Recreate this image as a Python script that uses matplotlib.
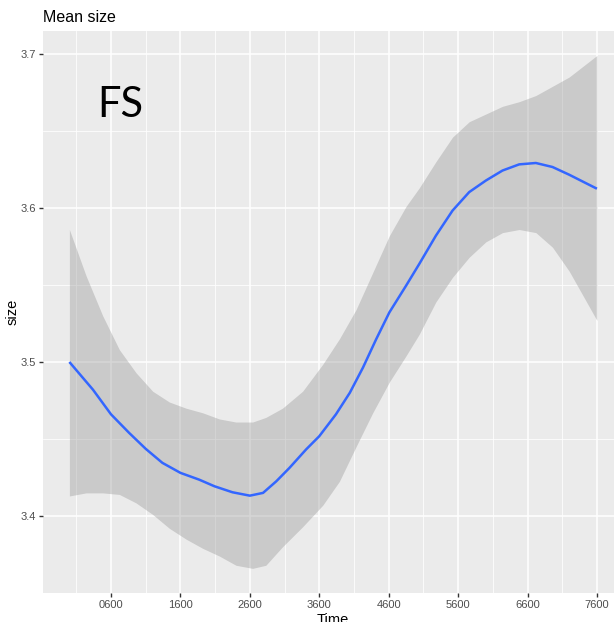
import matplotlib.pyplot as plt
import numpy as np

# Smoothed mean size over time (loess fit) with its confidence band
fit_time = [0, 340, 600, 860, 1100, 1340, 1600, 1870, 2090, 2350, 2600,
            2790, 2980, 3170, 3410, 3600, 3840, 4040, 4230, 4420, 4610,
            4850, 5040, 5280, 5520, 5760, 6000, 6240, 6480, 6720, 6960,
            7200, 7600]
size_fit = [3.500, 3.482, 3.466, 3.454, 3.4436, 3.4345, 3.428, 3.4236,
            3.4193, 3.4154, 3.4132, 3.415, 3.4225, 3.4312, 3.4432, 3.4518,
            3.466, 3.480, 3.4964, 3.5148, 3.5322, 3.5495, 3.5636, 3.582,
            3.5983, 3.6103, 3.6178, 3.6243, 3.6283, 3.6292, 3.6266, 3.6216,
            3.6125]

band_time = [0, 240, 480, 720, 960, 1200, 1440, 1680, 1920, 2160, 2400,
             2640, 2830, 3070, 3360, 3650, 3890, 4130, 4370, 4610, 4850,
             5040, 5280, 5520, 5760, 6000, 6240, 6480, 6720, 6960, 7200,
             7600]
size_upper = [3.586, 3.556, 3.530, 3.508, 3.493, 3.481, 3.474, 3.470, 3.467,
              3.463, 3.461, 3.461, 3.464, 3.470, 3.481, 3.4985, 3.515, 3.534,
              3.558, 3.582, 3.601, 3.613, 3.630, 3.646, 3.656, 3.661, 3.666,
              3.669, 3.673, 3.679, 3.685, 3.699]
size_lower = [3.413, 3.415, 3.415, 3.414, 3.4085, 3.401, 3.392, 3.385, 3.379,
              3.374, 3.368, 3.366, 3.368, 3.380, 3.393, 3.407, 3.4225, 3.445,
              3.467, 3.487, 3.504, 3.518, 3.539, 3.555, 3.568, 3.578, 3.584,
              3.586, 3.584, 3.5745, 3.559, 3.527]

x_ticks = [600, 1600, 2600, 3600, 4600, 5600, 6600, 7600]
x_labels = ['0600', '1600', '2600', '3600', '4600', '5600', '6600', '7600']
y_ticks = [3.4, 3.5, 3.6, 3.7]

plt.rcParams['font.family'] = ['Liberation Sans', 'DejaVu Sans']

fig = plt.figure(figsize=(6.14, 6.22), dpi=100)
# panel runs a little past the right edge of the figure
ax = fig.add_axes([43 / 614, 1 - 593 / 622, 580.3 / 614, 562 / 622])
ax.set_facecolor('#EBEBEB')
for s in ax.spines.values():
    s.set_visible(False)

ax.fill_between(band_time, size_lower, size_upper, color='#999999',
                alpha=0.4, linewidth=0, zorder=2)
ax.plot(fit_time, size_fit, color='#3366FF', linewidth=1.8, zorder=3,
        solid_capstyle='butt', solid_joinstyle='round')

ax.set_xlim(-380, 7980)
ax.set_ylim(3.35, 3.7149)
ax.set_xticks(x_ticks)
ax.set_xticklabels(x_labels)
ax.set_xticks(np.arange(100, 7600, 1000), minor=True)
ax.set_yticks(y_ticks)
ax.set_yticklabels(['3.4', '3.5', '3.6', '3.7'])
ax.set_yticks([3.35, 3.45, 3.55, 3.65], minor=True)

ax.grid(which='major', color='white', linewidth=1.1, zorder=1)
ax.grid(which='minor', color='white', linewidth=0.55, zorder=1)
ax.set_axisbelow(True)
ax.tick_params(which='major', length=3, width=1, color='#333333',
               labelsize=8, labelcolor='#4D4D4D', pad=2)
ax.tick_params(which='minor', length=0)

ax.set_xlabel('Time', fontsize=10.5, labelpad=2)
ax.set_ylabel('size', fontsize=10.5, labelpad=1)
fig.text(43 / 614, 1 - 17 / 622, 'Mean size', fontsize=11.5, ha='left',
         va='center')
ax.text(735, 3.667, 'FS', family=['Lato', 'DejaVu Sans'],
        fontsize=30, ha='center', va='center', color='black')

fig.savefig('out.png', dpi=100)
